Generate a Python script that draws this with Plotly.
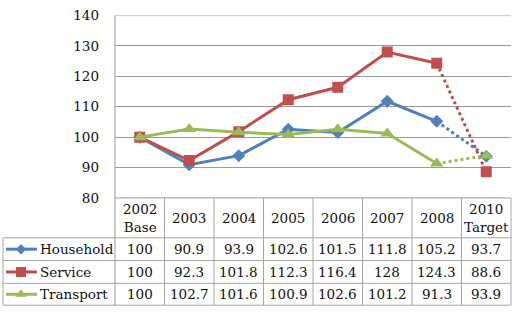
import plotly.graph_objects as go

categories = ["2002<br>Base", "2003", "2004", "2005", "2006", "2007", "2008", "2010<br>Target"]
series_names = ["Household", "Service", "Transport"]
household = [100, 90.9, 93.9, 102.6, 101.5, 111.8, 105.2, 93.7]
service = [100, 92.3, 101.8, 112.3, 116.4, 128, 124.3, 88.6]
transport = [100, 102.7, 101.6, 100.9, 102.6, 101.2, 91.3, 93.9]
value_labels = [
    ["100", "90.9", "93.9", "102.6", "101.5", "111.8", "105.2", "93.7"],
    ["100", "92.3", "101.8", "112.3", "116.4", "128", "124.3", "88.6"],
    ["100", "102.7", "101.6", "100.9", "102.6", "101.2", "91.3", "93.9"],
]
y_ticks = [80, 90, 100, 110, 120, 130, 140]

colors = ["#4F81BD", "#C0504D", "#9BBB59"]
symbols = ["diamond", "square", "triangle-up"]
msizes = [10, 11, 12]
keysizes = [8, 10, 10]
W, H = 523, 317
FONT = "DejaVu Serif, Liberation Serif, serif"
GRID = "#9A9A9A"
BORDER = "#A6A6A6"

px_left, px_right, px_top, px_bottom = 115, 511, 8, 200
row_edges = [200, 242, 266, 290, 313]
table_left = 3

def py(y):
    return 1 - y / H

def pxp(x):
    return x / W

fig = go.Figure()
xi = list(range(len(categories)))
for name, vals, c, s, ms in zip(series_names, [household, service, transport], colors, symbols, msizes):
    fig.add_trace(go.Scatter(x=xi[6:8], y=vals[6:8], mode="lines",
                             line=dict(color=c, width=3, dash="3px,3px"),
                             showlegend=False, hoverinfo="skip"))
for name, vals, c, s, ms in zip(series_names, [household, service, transport], colors, symbols, msizes):
    fig.add_trace(go.Scatter(x=xi[:7], y=vals[:7], mode="lines+markers", name=name,
                             line=dict(color=c, width=3),
                             marker=dict(symbol=s, size=ms, color=c),
                             showlegend=False))
    fig.add_trace(go.Scatter(x=[xi[7]], y=[vals[7]], mode="markers",
                             marker=dict(symbol=s, size=ms, color=c),
                             showlegend=False, hoverinfo="skip"))

for i, (c, s, ks) in enumerate(zip(colors, symbols, keysizes)):
    yc = (row_edges[i + 1] + row_edges[i + 2]) / 2
    fig.add_trace(go.Scatter(x=[6, 37], y=[yc, yc], mode="lines",
                             line=dict(color=c, width=3), xaxis="x2", yaxis="y2",
                             showlegend=False, hoverinfo="skip"))
    fig.add_trace(go.Scatter(x=[21], y=[yc], mode="markers",
                             marker=dict(symbol=s, size=ks, color=c), xaxis="x2", yaxis="y2",
                             showlegend=False, hoverinfo="skip"))

shapes = []
def line(x0, y0, x1, y1, color=BORDER, w=1):
    shapes.append(dict(type="line", xref="paper", yref="paper",
                       x0=pxp(x0), y0=py(y0), x1=pxp(x1), y1=py(y1),
                       line=dict(color=color, width=w)))

line(px_left, row_edges[0], px_right, row_edges[0], GRID)
for y in row_edges[1:]:
    line(table_left, y, px_right, y)
ncol = len(categories)
for k in range(ncol + 1):
    x = px_left + k * (px_right - px_left) / ncol
    if k == 0:
        line(x, px_top, x, row_edges[-1], GRID)
    else:
        line(x, row_edges[0], x, row_edges[-1])
line(table_left, row_edges[1], table_left, row_edges[-1])

TF = dict(family=FONT, size=13.5, color="#111")
annotations = []
for k, cat in enumerate(categories):
    annotations.append(dict(x=k, xref="x", y=py((row_edges[0] + row_edges[1]) / 2), yref="paper",
                            text=cat, showarrow=False, font=TF,
                            xanchor="center", yanchor="middle"))
for r, name in enumerate(series_names):
    yc = (row_edges[r + 1] + row_edges[r + 2]) / 2
    annotations.append(dict(x=pxp(38), xref="paper", y=py(yc), yref="paper", text=name,
                            showarrow=False, font=TF, xanchor="left", yanchor="middle"))
    for k, v in enumerate(value_labels[r]):
        annotations.append(dict(x=k, xref="x", y=py(yc), yref="paper", text=v,
                                showarrow=False, font=TF, xanchor="center", yanchor="middle"))

fig.update_layout(
    width=W, height=H,
    margin=dict(l=0, r=0, t=0, b=0),
    font=dict(family=FONT),
    paper_bgcolor="white", plot_bgcolor="rgba(0,0,0,0)",
    xaxis=dict(domain=[pxp(px_left), pxp(px_right)], range=[-0.5, 7.5],
               showticklabels=False, showgrid=False, zeroline=False, fixedrange=True),
    yaxis=dict(domain=[py(px_bottom), py(px_top)], range=[80, 140], tickvals=y_ticks,
               showgrid=True, gridcolor=GRID, gridwidth=1, zeroline=False,
               ticks="", ticklabelstandoff=15, ticklabeloverflow="allow",
               tickfont=dict(family=FONT, size=13.5, color="#111")),
    xaxis2=dict(domain=[0, 1], range=[0, W], visible=False, anchor="y2", fixedrange=True),
    yaxis2=dict(domain=[0, 1], range=[H, 0], visible=False, anchor="x2", fixedrange=True),
    shapes=shapes, annotations=annotations,
    showlegend=False,
)
fig.add_shape(type="line", xref="paper", yref="y", x0=pxp(px_left), x1=pxp(px_right), y0=140, y1=140,
              line=dict(color=GRID, width=1))

fig.write_html("out.html")
